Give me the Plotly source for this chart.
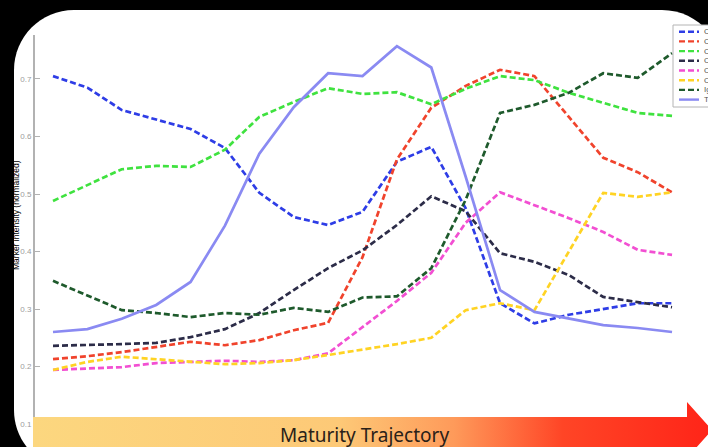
import plotly.graph_objects as go

# ---- data -------------------------------------------------------------
stage = list(range(1, 20))

series_names = ["CD34", "CD38", "CD45", "CD11b", "CD14", "CD16", "IgM", "Total"]

cd34 = [0.705, 0.685, 0.646, 0.630, 0.613, 0.580, 0.502, 0.460, 0.446, 0.469,
        0.556, 0.582, 0.475, 0.310, 0.275, 0.290, 0.300, 0.310, 0.310]
cd38 = [0.213, 0.218, 0.225, 0.234, 0.243, 0.237, 0.246, 0.263, 0.276, 0.390,
        0.560, 0.650, 0.688, 0.716, 0.705, 0.634, 0.563, 0.538, 0.503]
cd45 = [0.488, 0.515, 0.543, 0.549, 0.547, 0.577, 0.634, 0.660, 0.684, 0.674,
        0.677, 0.656, 0.683, 0.705, 0.698, 0.676, 0.658, 0.641, 0.636]
cd11b = [0.236, 0.237, 0.239, 0.241, 0.251, 0.265, 0.293, 0.333, 0.371, 0.402,
         0.446, 0.496, 0.470, 0.397, 0.382, 0.359, 0.321, 0.312, 0.303]
cd14 = [0.194, 0.196, 0.199, 0.206, 0.208, 0.210, 0.208, 0.211, 0.223, 0.269,
        0.314, 0.363, 0.450, 0.503, 0.481, 0.458, 0.434, 0.403, 0.394]
cd16 = [0.194, 0.208, 0.217, 0.213, 0.208, 0.204, 0.206, 0.211, 0.220, 0.229,
        0.239, 0.250, 0.298, 0.310, 0.298, 0.400, 0.502, 0.495, 0.503]
igm = [0.349, 0.324, 0.298, 0.293, 0.286, 0.293, 0.290, 0.302, 0.295, 0.320,
       0.322, 0.371, 0.490, 0.641, 0.655, 0.676, 0.710, 0.702, 0.745]
total = [0.260, 0.265, 0.283, 0.307, 0.347, 0.445, 0.570, 0.651, 0.710, 0.705,
         0.757, 0.720, 0.530, 0.333, 0.295, 0.284, 0.272, 0.267, 0.260]

y_ticks = [0.1, 0.2, 0.3, 0.4, 0.5, 0.6, 0.7]
y_tick_labels = ["0.1", "0.2", "0.3", "0.4", "0.5", "0.6", "0.7"]

# ---- styling ----------------------------------------------------------
W, H = 708, 447
colors = ["#2e3de6", "#f0432c", "#3fe23f", "#2c2c48", "#f24fd2", "#ffd323", "#1e5a2c", "#8a8af2"]
dashes = ["6px,3px"] * 7 + ["solid"]
values = [cd34, cd38, cd45, cd11b, cd14, cd16, igm, total]


def px(x):
    return x / W


def py(y):
    return 1 - y / H


def rounded_rect(x0, y0, x1, y1, r):
    """SVG path (paper units) of a rounded rectangle given in pixels."""
    k = 0.5523 * r
    pts = [
        f"M {px(x0 + r)},{py(y0)}",
        f"L {px(x1 - r)},{py(y0)}",
        f"C {px(x1 - r + k)},{py(y0)} {px(x1)},{py(y0 + r - k)} {px(x1)},{py(y0 + r)}",
        f"L {px(x1)},{py(y1 - r)}",
        f"C {px(x1)},{py(y1 - r + k)} {px(x1 - r + k)},{py(y1)} {px(x1 - r)},{py(y1)}",
        f"L {px(x0 + r)},{py(y1)}",
        f"C {px(x0 + r - k)},{py(y1)} {px(x0)},{py(y1 - r + k)} {px(x0)},{py(y1 - r)}",
        f"L {px(x0)},{py(y0 + r)}",
        f"C {px(x0)},{py(y0 + r - k)} {px(x0 + r - k)},{py(y0)} {px(x0 + r)},{py(y0)}",
        "Z",
    ]
    return " ".join(pts)


fig = go.Figure()

for name, vals, c, d in zip(series_names, values, colors, dashes):
    fig.add_trace(go.Scatter(
        x=stage, y=vals, mode="lines", name=name,
        line=dict(color=c, width=2.7, dash=d),
        hoverinfo="skip", showlegend=False,
        xaxis="x", yaxis="y",
    ))

# gradient arrow along the bottom (pixel-space overlay axes)
arrow_x = [33, 687, 687, 712, 687, 687, 33, 33]
arrow_y = [417, 417, 402, 430, 458, 452, 452, 417]
fig.add_trace(go.Scatter(
    x=arrow_x, y=arrow_y, mode="lines", fill="toself",
    line=dict(width=0, color="rgba(0,0,0,0)"),
    fillgradient=dict(
        type="horizontal",
        colorscale=[[0.0, "#fcd77f"], [0.45, "#fdc977"], [0.62, "#fe9a5a"],
                    [0.78, "#ff4526"], [1.0, "#ff2418"]],
    ),
    hoverinfo="skip", showlegend=False, xaxis="x2", yaxis="y2",
))

shapes = [
    dict(type="path", path=rounded_rect(14, 10, 722, 470, 60), xref="paper", yref="paper",
         fillcolor="white", line=dict(width=0), layer="below"),
]

annotations = [
    dict(text="Maturity Trajectory", x=px(364), y=py(435), xref="paper", yref="paper",
         showarrow=False, font=dict(family="Noto Sans", size=19, color="#2a2118"),
         xanchor="center", yanchor="middle"),
    dict(text="Marker intensity (normalized)", x=px(16), y=py(215), xref="paper", yref="paper",
         showarrow=False, textangle=-90, font=dict(family="Liberation Sans", size=8.5, color="#000"),
         xanchor="center", yanchor="middle"),
]

# legend box in the top-right corner
lg_x0, lg_y0, lg_y1 = 673, 25, 107
shapes.append(dict(type="rect", x0=px(lg_x0), x1=px(740), y0=py(lg_y0), y1=py(lg_y1),
                   xref="paper", yref="paper", fillcolor="white",
                   line=dict(color="#b4b4b4", width=1), layer="above"))
for i, (name, c, d) in enumerate(zip(series_names, colors, dashes)):
    yy = 31.7 + 9.7 * i
    shapes.append(dict(type="line", x0=px(679), x1=px(699), y0=py(yy), y1=py(yy),
                       xref="paper", yref="paper", line=dict(color=c, width=2.4, dash=d),
                       layer="above"))
    annotations.append(dict(text=name, x=px(702), y=py(yy), xref="paper", yref="paper",
                            showarrow=False, xanchor="left", yanchor="middle",
                            font=dict(family="Liberation Sans", size=8, color="#555")))

fig.update_layout(
    width=W, height=H,
    margin=dict(l=0, r=0, t=0, b=0, pad=0),
    paper_bgcolor="black",
    plot_bgcolor="rgba(0,0,0,0)",
    showlegend=False,
    shapes=shapes,
    annotations=annotations,
    xaxis=dict(domain=[px(35), 1.0], range=[0.4766, 20.046], visible=False, fixedrange=True),
    yaxis=dict(domain=[py(440), py(35)], range=[0.0722, 0.7765], showgrid=False, zeroline=False,
               showline=True, linecolor="#b2b2b2", linewidth=2,
               ticks="inside", ticklen=5, tickwidth=1, tickcolor="#b2b2b2",
               tickvals=y_ticks, ticktext=y_tick_labels,
               tickfont=dict(family="Liberation Sans", size=8, color="#9c9c9c"),
               fixedrange=True),
    xaxis2=dict(domain=[0, 1], range=[0, W], visible=False, anchor="y2", fixedrange=True),
    yaxis2=dict(domain=[0, 1], range=[H, 0], visible=False, anchor="x2", fixedrange=True),
)

fig.write_html("out.html", config=dict(displayModeBar=False, staticPlot=True))
